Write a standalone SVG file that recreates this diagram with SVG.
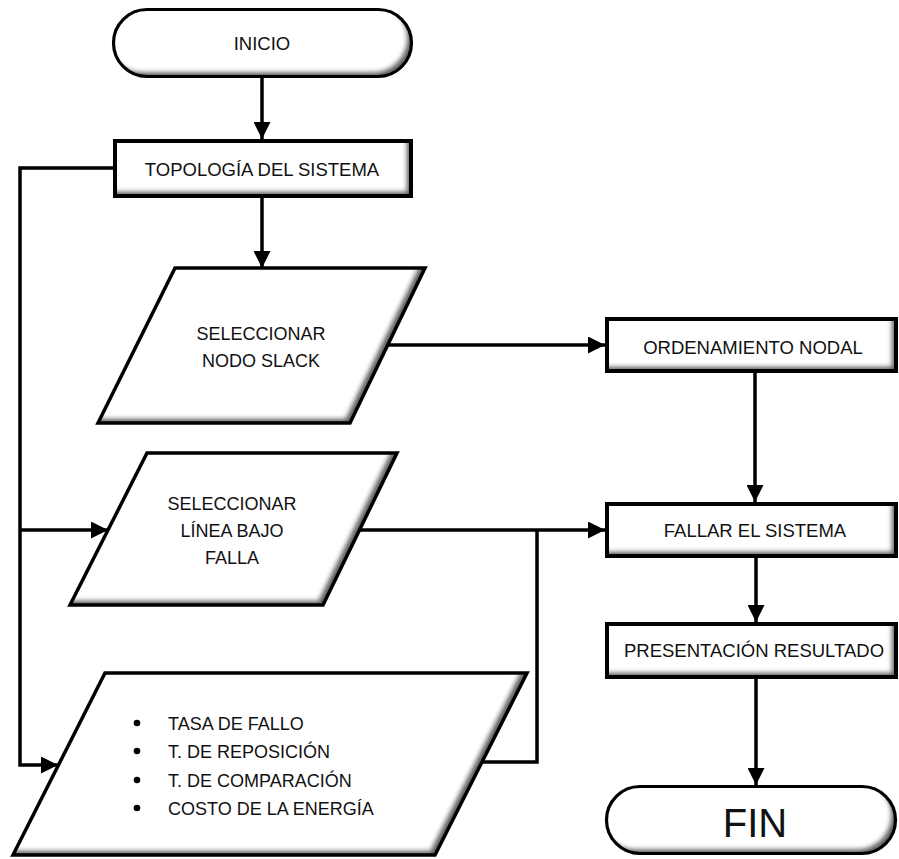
<svg xmlns="http://www.w3.org/2000/svg" width="899" height="859" viewBox="0 0 899 859">
  <defs>
    <!-- soft inner shading along the lower and right inside edges of every shape -->
    <filter id="bevel" x="-5%" y="-10%" width="110%" height="120%">
      <feOffset in="SourceAlpha" dx="-5" dy="-5" result="shift"/>
      <feGaussianBlur in="shift" stdDeviation="2.2" result="soft"/>
      <feComposite in="SourceAlpha" in2="soft" operator="out" result="band"/>
      <feFlood flood-color="#666666" result="tone"/>
      <feComposite in="tone" in2="band" operator="in" result="shade"/>
      <feMerge>
        <feMergeNode in="SourceGraphic"/>
        <feMergeNode in="shade"/>
      </feMerge>
    </filter>
    <marker id="arrow" markerUnits="userSpaceOnUse" markerWidth="18" markerHeight="17" refX="17" refY="8.5" orient="auto">
      <path d="M0,0 L17,8.5 L0,17 z" fill="#000"/>
    </marker>
  </defs>
  <style>
    .fill { fill: #ffffff; stroke: none; filter: url(#bevel); }
    .box { fill: none; stroke: #000; stroke-width: 4; }
    .term { fill: none; stroke: #000; stroke-width: 3.2; }
    .para { fill: none; stroke: #000; stroke-width: 3.5; stroke-linejoin: miter; }
    .lbl { font-family: "Liberation Sans", Arial, sans-serif; font-size: 18.5px; fill: #111; text-anchor: middle; }
    .plbl { font-family: "Liberation Sans", Arial, sans-serif; font-size: 18px; fill: #111; text-anchor: middle; }
    .list { font-family: "Liberation Sans", Arial, sans-serif; font-size: 18px; fill: #111; }
    .big { font-family: "Liberation Sans", Arial, sans-serif; font-size: 40px; fill: #111; text-anchor: middle; }
    .wire { fill: none; stroke: #000; stroke-width: 3.5; }
    .tip { marker-end: url(#arrow); }
  </style>
  <rect width="899" height="859" fill="#ffffff"/>

  <g id="connectors">
    <line class="wire tip" x1="262" y1="78" x2="262" y2="139"/>
    <line class="wire tip" x1="262" y1="198" x2="262" y2="268"/>
    <polyline class="wire tip" points="113,168 20,168 20,765 58,765"/>
    <line class="wire tip" x1="20" y1="530" x2="108" y2="530"/>
    <line class="wire tip" x1="388" y1="345" x2="605" y2="345"/>
    <line class="wire tip" x1="755" y1="373" x2="755" y2="502"/>
    <line class="wire tip" x1="358" y1="530" x2="605" y2="530"/>
    <polyline class="wire" points="481,762 537,762 537,530"/>
    <line class="wire tip" x1="756" y1="558" x2="756" y2="622"/>
    <line class="wire tip" x1="756" y1="679" x2="756" y2="785"/>
  </g>

  <g id="inicio">
    <rect class="fill" x="113.5" y="9.5" width="298" height="67" rx="33.5"/>
    <rect class="term" x="113.5" y="9.5" width="298" height="67" rx="33.5"/>
    <text class="lbl" x="262" y="50">INICIO</text>
  </g>

  <g id="topologia">
    <rect class="fill" x="115" y="141" width="296" height="55"/>
    <rect class="box" x="115" y="141" width="296" height="55"/>
    <text class="lbl" x="262" y="176">TOPOLOGÍA DEL SISTEMA</text>
  </g>

  <g id="nodo-slack">
    <path class="fill" d="M175,268 L425,268 L350,423 L98,423 Z"/>
    <path class="para" d="M175,268 L425,268 L350,423 L98,423 Z"/>
    <text class="plbl" x="261" y="339.5">SELECCIONAR</text>
    <text class="plbl" x="261" y="366.5">NODO SLACK</text>
  </g>

  <g id="ordenamiento">
    <rect class="fill" x="607" y="319" width="289" height="52"/>
    <rect class="box" x="607" y="319" width="289" height="52"/>
    <text class="lbl" x="753" y="353.5">ORDENAMIENTO NODAL</text>
  </g>

  <g id="linea-falla">
    <path class="fill" d="M147,453 L397,453 L323,605 L70,605 Z"/>
    <path class="para" d="M147,453 L397,453 L323,605 L70,605 Z"/>
    <text class="plbl" x="232" y="509.5">SELECCIONAR</text>
    <text class="plbl" x="232" y="536.5">LÍNEA BAJO</text>
    <text class="plbl" x="232" y="563.5">FALLA</text>
  </g>

  <g id="fallar">
    <rect class="fill" x="607" y="504" width="289" height="52"/>
    <rect class="box" x="607" y="504" width="289" height="52"/>
    <text class="lbl" x="755" y="536.5">FALLAR EL SISTEMA</text>
  </g>

  <g id="parametros">
    <path class="fill" d="M105,673 L527,673 L435,855 L13,855 Z"/>
    <path class="para" d="M105,673 L527,673 L435,855 L13,855 Z"/>
    <circle cx="137" cy="723" r="3.3"/>
    <circle cx="137" cy="751" r="3.3"/>
    <circle cx="137" cy="780" r="3.3"/>
    <circle cx="137" cy="808" r="3.3"/>
    <text class="list" x="168" y="730">TASA DE FALLO</text>
    <text class="list" x="168" y="758">T. DE REPOSICIÓN</text>
    <text class="list" x="168" y="787">T. DE COMPARACIÓN</text>
    <text class="list" x="168" y="815">COSTO DE LA ENERGÍA</text>
  </g>

  <g id="presentacion">
    <rect class="fill" x="607" y="624" width="289" height="53"/>
    <rect class="box" x="607" y="624" width="289" height="53"/>
    <text class="lbl" x="754" y="657">PRESENTACIÓN RESULTADO</text>
  </g>

  <g id="fin">
    <rect class="fill" x="606.5" y="786.5" width="289" height="67" rx="33.5"/>
    <rect class="term" x="606.5" y="786.5" width="289" height="67" rx="33.5"/>
    <text class="big" x="755" y="837">FIN</text>
  </g>
</svg>
